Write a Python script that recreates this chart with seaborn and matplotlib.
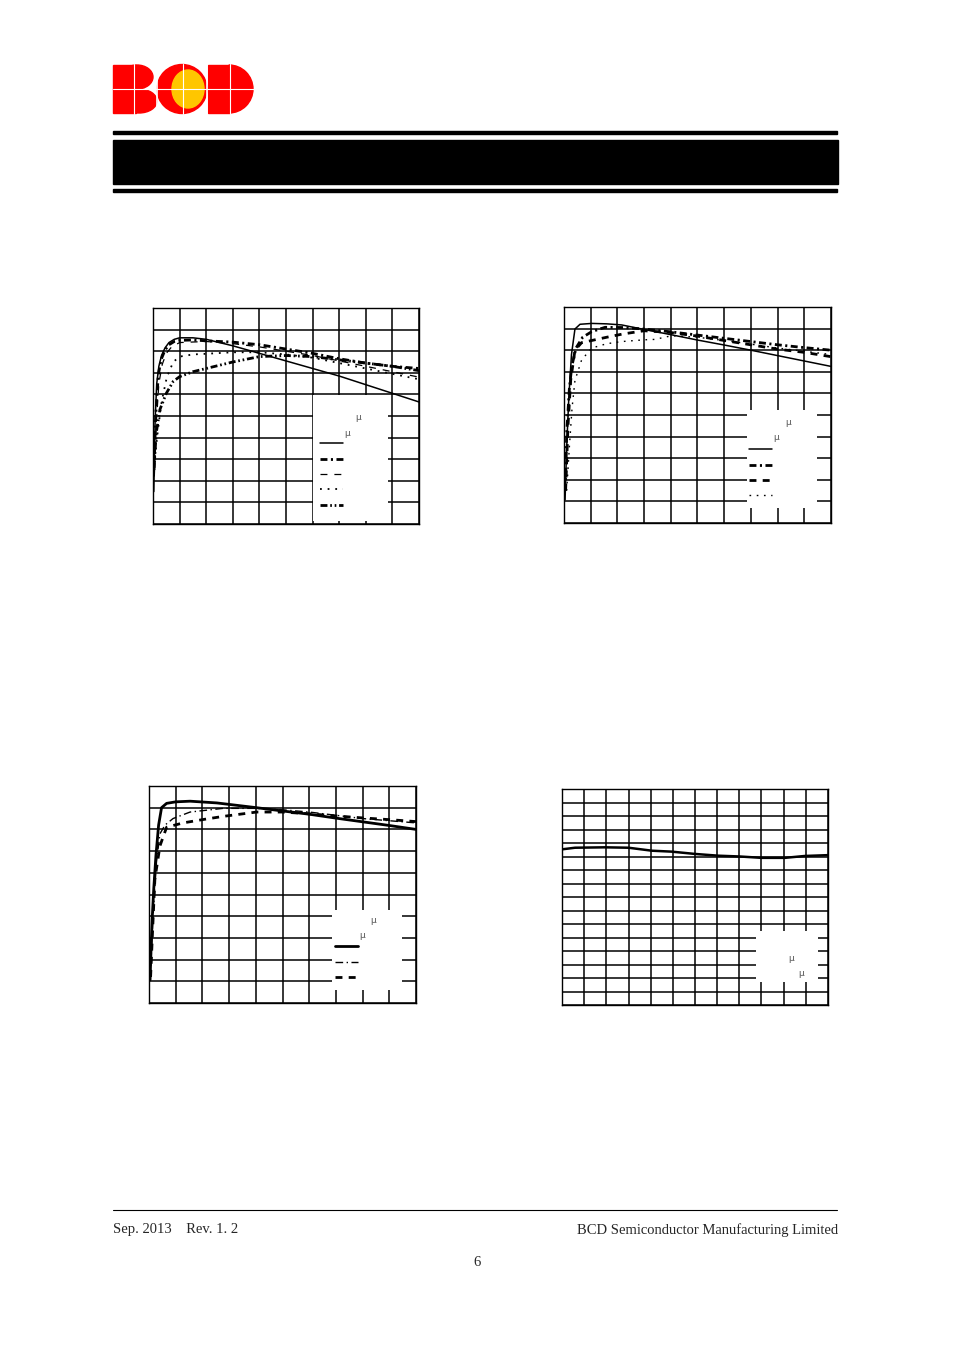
import numpy as np
import pandas as pd
import matplotlib.pyplot as plt
import matplotlib.patches as patches
import seaborn as sns

sns.set_style("white")
plt.rcParams['lines.scale_dashes'] = False
plt.rcParams['font.family'] = ['Liberation Serif', 'DejaVu Serif']

# ---- curve data (grid units, 10 x 10 grid) ----
# chart 1 (top left): five curves
c1_solid_x = [0.03, 0.08, 0.14, 0.22, 0.32, 0.45, 0.6, 0.8, 1.0, 1.5, 2.0, 3.0, 4.0, 5.0, 6.0, 7.0, 8.0, 9.0, 10.0]
c1_solid_y = [1.5, 4.8, 6.5, 7.3, 7.8, 8.15, 8.4, 8.55, 8.62, 8.62, 8.55, 8.25, 7.9, 7.55, 7.2, 6.85, 6.45, 6.05, 5.65]
c1_dashdot_x = [0.04, 0.1, 0.2, 0.3, 0.45, 0.6, 0.8, 1.0, 1.5, 2.0, 3.0, 4.0, 5.0, 6.0, 7.0, 8.0, 9.0, 10.0]
c1_dashdot_y = [2.5, 5.0, 6.9, 7.6, 8.05, 8.3, 8.45, 8.5, 8.52, 8.48, 8.42, 8.3, 8.1, 7.9, 7.65, 7.45, 7.3, 7.2]
c1_dash_x = [0.05, 0.12, 0.22, 0.35, 0.5, 0.7, 1.0, 2.0, 3.0, 4.0, 5.0, 6.0, 7.0, 8.0, 9.0, 10.0]
c1_dash_y = [2.2, 4.6, 6.5, 7.4, 7.9, 8.2, 8.4, 8.45, 8.35, 8.2, 8.0, 7.8, 7.55, 7.3, 7.05, 6.8]
c1_dot_x = [0.07, 0.2, 0.33, 0.52, 0.76, 1.0, 1.5, 2.0, 3.0, 4.0, 5.0, 6.0, 7.0, 8.0, 9.0, 10.0]
c1_dot_y = [3.1, 4.5, 5.7, 6.8, 7.5, 7.75, 7.85, 7.88, 7.95, 7.95, 7.85, 7.7, 7.45, 7.2, 6.95, 6.7]
c1_dashdotdot_x = [0.04, 0.12, 0.26, 0.5, 0.76, 1.0, 1.5, 2.0, 3.0, 4.0, 5.0, 6.0, 7.0, 8.0, 9.0, 10.0]
c1_dashdotdot_y = [2.6, 4.2, 5.3, 6.05, 6.6, 6.82, 7.05, 7.2, 7.5, 7.75, 7.8, 7.75, 7.6, 7.45, 7.3, 7.1]

# chart 2 (top right): four curves
c2_solid_x = [0.04, 0.1, 0.18, 0.28, 0.41, 0.6, 1.04, 1.6, 2.16, 3.0, 4.0, 5.0, 6.0, 7.0, 8.0, 9.0, 10.0]
c2_solid_y = [1.07, 3.5, 5.8, 7.8, 8.98, 9.2, 9.24, 9.22, 9.17, 8.96, 8.72, 8.47, 8.24, 8.0, 7.75, 7.5, 7.25]
c2_dashdot_x = [0.05, 0.1, 0.2, 0.29, 0.45, 0.7, 1.04, 1.54, 2.2, 3.0, 4.0, 5.0, 6.0, 7.0, 8.0, 9.0, 10.0]
c2_dashdot_y = [1.5, 4.15, 6.2, 7.25, 8.1, 8.6, 8.86, 9.06, 9.05, 8.98, 8.85, 8.7, 8.55, 8.4, 8.25, 8.12, 8.0]
c2_dash_x = [0.06, 0.15, 0.25, 0.41, 0.66, 1.04, 1.6, 2.2, 3.0, 4.0, 5.0, 6.0, 7.0, 8.0, 9.0, 10.0]
c2_dash_y = [1.5, 4.5, 6.6, 8.0, 8.35, 8.45, 8.6, 8.75, 8.9, 8.82, 8.65, 8.45, 8.25, 8.05, 7.9, 7.7]
c2_dot_x = [0.1, 0.2, 0.3, 0.41, 0.66, 1.04, 1.6, 2.16, 3.0, 3.4, 4.03, 5.0, 6.0, 7.0, 8.0, 9.0, 10.0]
c2_dot_y = [1.5, 3.5, 5.3, 6.6, 7.55, 8.1, 8.3, 8.4, 8.48, 8.5, 8.67, 8.6, 8.45, 8.28, 8.1, 7.95, 7.8]

# chart 3 (bottom left): three curves
c3_solid_x = [0.04, 0.08, 0.12, 0.18, 0.26, 0.36, 0.47, 0.66, 1.0, 1.54, 2.54, 4.03, 5.0, 6.0, 7.0, 8.0, 9.0, 10.0]
c3_solid_y = [1.06, 2.6, 3.9, 5.3, 6.8, 8.2, 9.0, 9.2, 9.27, 9.3, 9.22, 9.0, 8.85, 8.7, 8.52, 8.35, 8.18, 8.0]
c3_dashdot_x = [0.05, 0.15, 0.28, 0.41, 0.6, 0.9, 1.54, 2.78, 4.0, 5.03, 6.0, 7.0, 8.0, 9.0, 10.0]
c3_dashdot_y = [1.2, 4.0, 6.5, 7.8, 8.2, 8.5, 8.8, 8.97, 8.97, 8.9, 8.8, 8.65, 8.5, 8.4, 8.3]
c3_dash_x = [0.06, 0.14, 0.22, 0.41, 0.66, 1.28, 2.0, 2.78, 4.03, 5.0, 6.0, 7.0, 8.0, 9.0, 10.0]
c3_dash_y = [1.2, 3.5, 5.7, 7.24, 8.1, 8.3, 8.45, 8.6, 8.8, 8.8, 8.72, 8.62, 8.53, 8.45, 8.36]

# chart 4 (bottom right, 12 x 16 grid): one curve
c4_x = [0, 0.59, 1.94, 3.0, 4.05, 4.95, 6.0, 7.05, 8.03, 9.0, 10.06, 10.96, 12]
c4_y = [11.53, 11.65, 11.68, 11.65, 11.43, 11.36, 11.19, 11.06, 11.0, 10.9, 10.9, 11.04, 11.1]

W, H = 954, 1350
fig = plt.figure(figsize=(W / 100, H / 100), dpi=100)

# page furniture in pixel coordinates
page = fig.add_axes([0, 0, 1, 1])
page.set_xlim(0, W)
page.set_ylim(H, 0)
page.axis('off')

red, gold = '#ff0000', '#ffc600'
page.add_patch(patches.Rectangle((113, 65), 23, 48, color=red))
page.add_patch(patches.Ellipse((137, 77), 32, 24, color=red))
page.add_patch(patches.Ellipse((139, 101), 36, 24, color=red))
page.add_patch(patches.Ellipse((182, 89), 50, 49, color=red))
page.add_patch(patches.Ellipse((188, 89), 32, 38, color=gold))
page.add_patch(patches.Rectangle((208, 65), 22, 48, color=red))
page.add_patch(patches.Wedge((229, 89), 24, -90, 90, color=red))
page.plot([113, 254], [89, 89], color='white', lw=0.8)
for vx in [134, 183, 230]:
    page.plot([vx, vx], [64, 114], color='white', lw=0.8)
for vx in [157, 207.5]:
    page.plot([vx, vx], [64, 114], color='white', lw=1.2)

page.add_patch(patches.Rectangle((113, 130.5), 724, 3.5, color='black'))
page.add_patch(patches.Rectangle((113, 140), 725, 44, color='black'))
page.add_patch(patches.Rectangle((113, 189), 724, 2.5, color='black'))

page.plot([113, 837], [1210, 1210], color='black', lw=0.8)
page.text(113, 1230, 'Sep. 2013    Rev. 1. 2', fontsize=10.5, ha='left', va='center')
page.text(838, 1230, 'BCD Semiconductor Manufacturing Limited', fontsize=10.5, ha='right', va='center')
page.text(477, 1263, '6', fontsize=10.5, ha='center', va='center')


def make_panel(left, top, width, height, ncols, nrows):
    ax = fig.add_axes([left / W, (H - top - height) / H, width / W, height / H])
    ax.set_xlim(0, ncols)
    ax.set_ylim(0, nrows)
    ax.set_xticks(range(ncols + 1))
    ax.set_yticks(range(nrows + 1))
    ax.set_axisbelow(True)
    ax.grid(True, color='black', lw=1.1)
    ax.tick_params(length=0, labelbottom=False, labelleft=False)
    for s in ax.spines.values():
        s.set_color('black')
        s.set_linewidth(1.0)
    return ax


def curve(ax, xs, ys, **style):
    sns.lineplot(x=xs, y=ys, ax=ax, color='black', errorbar=None, zorder=3, **style)


def legend_box(ax, box, mus, keys):
    x0, y0, x1, y1 = box
    ax.add_patch(patches.Rectangle((x0, y0), x1 - x0, y1 - y0, transform=ax.transAxes,
                                   facecolor='white', edgecolor='none', zorder=1))
    for mx, my in mus:
        ax.text(mx, my, 'μ', transform=ax.transAxes, fontsize=6.5, color='#555555',
                family='DejaVu Sans', ha='center', va='center', zorder=4)
    for kx0, kx1, ky, style in keys:
        ax.plot([kx0, kx1], [ky, ky], transform=ax.transAxes, color='black', zorder=4, **style)


solid_thin = dict(lw=1.1)
solid_thick = dict(lw=2.0)
dd_thick = dict(lw=2.0, linestyle=(0, (5, 2.5, 1.5, 2.5)))
dash_thin = dict(lw=0.9, linestyle=(0, (5, 5)))
dot_mid = dict(lw=1.3, linestyle=(0, (1.3, 4.2)))
ddd_thick = dict(lw=2.0, linestyle=(0, (5, 2, 1.2, 2, 1.2, 2)))
dash_thick = dict(lw=2.0, linestyle=(0, (5, 4.5)))
dot_thin = dict(lw=1.0, linestyle=(0, (1.2, 4)))
dd_thin = dict(lw=1.0, linestyle=(0, (5.5, 2.5, 1, 2.5)))

# chart 1
ax1 = make_panel(153, 308, 266, 216, 10, 10)
curve(ax1, c1_solid_x, c1_solid_y, **solid_thin)
curve(ax1, c1_dashdot_x, c1_dashdot_y, **dd_thick)
curve(ax1, c1_dash_x, c1_dash_y, **dash_thin)
curve(ax1, c1_dot_x, c1_dot_y, **dot_mid)
curve(ax1, c1_dashdotdot_x, c1_dashdotdot_y, **ddd_thick)
legend_box(ax1, (0.603, 0.014, 0.883, 0.596),
           [(0.77, 0.495), (0.73, 0.42)],
           [(0.628, 0.714, 0.375, solid_thin), (0.628, 0.714, 0.30, dd_thick),
            (0.628, 0.714, 0.231, dash_thin), (0.628, 0.714, 0.162, dot_mid),
            (0.628, 0.714, 0.088, ddd_thick)])

# chart 2
ax2 = make_panel(564, 307, 267, 216, 10, 10)
curve(ax2, c2_solid_x, c2_solid_y, **solid_thin)
curve(ax2, c2_dashdot_x, c2_dashdot_y, **dd_thick)
curve(ax2, c2_dash_x, c2_dash_y, **dash_thick)
curve(ax2, c2_dot_x, c2_dot_y, **dot_thin)
legend_box(ax2, (0.685, 0.069, 0.948, 0.523),
           [(0.839, 0.463), (0.794, 0.394)],
           [(0.693, 0.779, 0.343, solid_thin), (0.693, 0.779, 0.269, dd_thick),
            (0.693, 0.779, 0.199, dash_thick), (0.693, 0.779, 0.130, dot_thin)])

# chart 3
ax3 = make_panel(149, 786, 267, 217, 10, 10)
curve(ax3, c3_solid_x, c3_solid_y, **solid_thick)
curve(ax3, c3_dashdot_x, c3_dashdot_y, **dd_thin)
curve(ax3, c3_dash_x, c3_dash_y, **dash_thick)
legend_box(ax3, (0.685, 0.06, 0.948, 0.429),
           [(0.839, 0.382), (0.798, 0.309)],
           [(0.697, 0.783, 0.263, solid_thick), (0.697, 0.783, 0.189, dd_thin),
            (0.697, 0.783, 0.12, dash_thick)])

# chart 4
ax4 = make_panel(562, 789, 266, 216, 12, 16)
curve(ax4, c4_x, c4_y, lw=1.8)
legend_box(ax4, (0.73, 0.106, 0.962, 0.343),
           [(0.86, 0.213), (0.90, 0.148)], [])

fig.savefig('out.png', dpi=100)
